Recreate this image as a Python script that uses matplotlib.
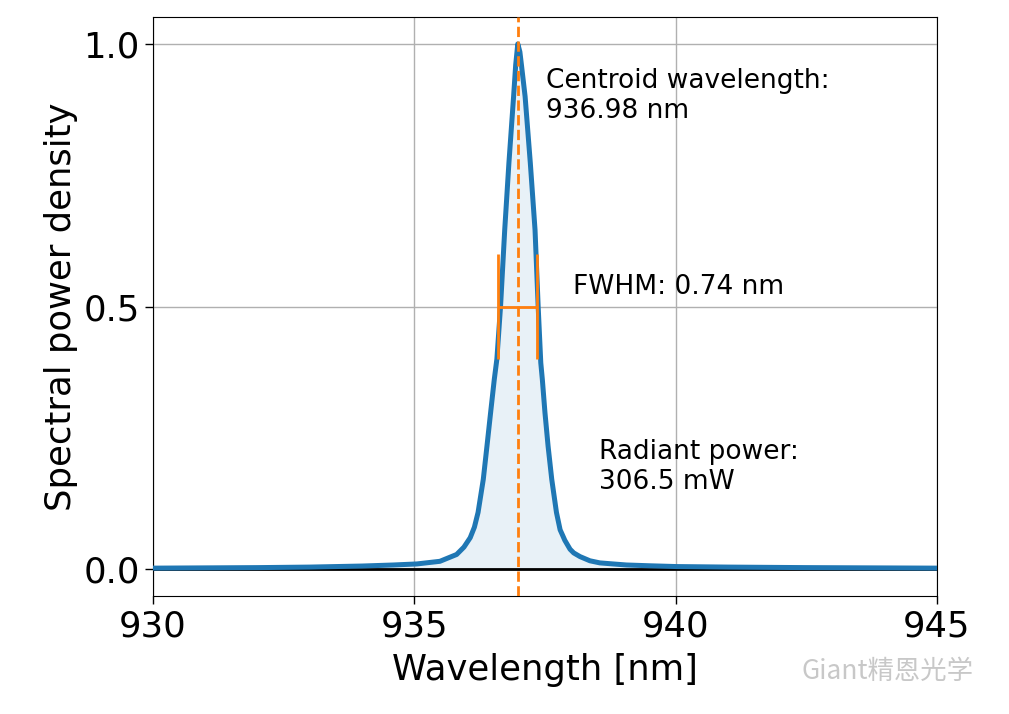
import numpy as np
import matplotlib
matplotlib.use("Agg")
import matplotlib.pyplot as plt

# Spectrum (wavelength in nm, normalised power density)
wavelength = [
    930.0, 931.0, 932.0, 933.0, 934.0, 934.6, 935.05, 935.49, 935.81, 935.95,
    936.07, 936.15, 936.22, 936.32, 936.39, 936.46, 936.53, 936.58, 936.65,
    936.73, 936.81, 936.90, 936.94, 936.98, 937.02, 937.05, 937.12, 937.22,
    937.31, 937.37, 937.42, 937.45, 937.50, 937.56, 937.63, 937.72, 937.79,
    937.84, 937.88, 937.98, 938.05, 938.17, 938.36, 938.55, 938.8, 939.06,
    939.5, 940.02, 941.0, 942.5, 945.0,
]
power_density = [
    0.002, 0.0025, 0.003, 0.004, 0.006, 0.008, 0.010, 0.015, 0.028, 0.042,
    0.060, 0.080, 0.108, 0.171, 0.234, 0.298, 0.361, 0.400, 0.500,
    0.646, 0.773, 0.900, 0.960, 1.000, 0.985, 0.960, 0.900, 0.773,
    0.646, 0.500, 0.393, 0.361, 0.298, 0.234, 0.171, 0.108, 0.075,
    0.064, 0.055, 0.038, 0.031, 0.024, 0.016, 0.012, 0.010, 0.008,
    0.0065, 0.005, 0.004, 0.003, 0.002,
]

centroid = 936.98
fwhm = 0.74
radiant_power = 306.5

x_ticks = [930, 935, 940, 945]
y_ticks = [0.0, 0.5, 1.0]

fig = plt.figure(figsize=(10.09, 7.14), dpi=100)
ax = fig.add_axes([0.1516, 0.1653, 0.777, 0.8107])

ax.axhline(0, color="k", linewidth=2, zorder=2)
ax.fill_between(wavelength, 0, power_density, color="C0", alpha=0.1, linewidth=0)
ax.plot(wavelength, power_density, color="C0", linewidth=3.6, zorder=3,
        solid_joinstyle="round")
ax.axvline(centroid, color="C1", linestyle="--", linewidth=2, zorder=4)

# FWHM marker
x_lo = centroid - fwhm / 2
x_hi = centroid + fwhm / 2
ax.hlines(0.5, x_lo, x_hi, color="C1", linewidth=2, zorder=4)
ax.vlines([x_lo, x_hi], 0.4, 0.6, color="C1", linewidth=2, zorder=4)

ax.text(centroid + 0.54, 0.9, f"Centroid wavelength:\n{centroid:.2f} nm",
        fontsize=19, va="center", ha="left", linespacing=1.2)
ax.text(centroid + fwhm / 2 + 0.68, 0.537, f"FWHM: {fwhm:.2f} nm",
        fontsize=19, va="center", ha="left")
ax.text(centroid + 1.55, 0.195, f"Radiant power:\n{radiant_power:.1f} mW",
        fontsize=19, va="center", ha="left", linespacing=1.2)

ax.set_xlim(930, 945)
ax.set_ylim(-0.051, 1.051)
ax.set_xticks(x_ticks)
ax.set_yticks(y_ticks)
ax.tick_params(labelsize=25.5, length=6, width=1)
ax.grid(True, color="#b0b0b0", linewidth=1)
ax.set_axisbelow(True)
ax.set_xlabel("Wavelength [nm]", fontsize=25.5, labelpad=7)
ax.set_ylabel("Spectral power density", fontsize=25.5, labelpad=4)

fig.text(0.965, 0.06, "Giant精恩光学", fontsize=19, color="#c8c8c8",
         ha="right", va="center", family=["Noto Sans CJK SC", "DejaVu Sans"])

fig.savefig("out.png", dpi=100)
